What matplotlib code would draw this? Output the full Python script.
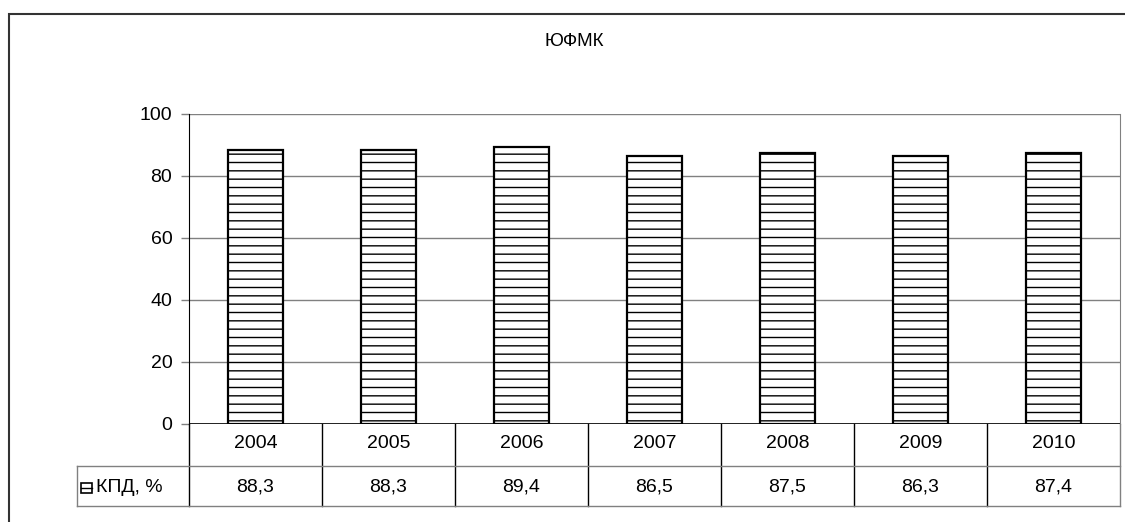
import numpy as np
import matplotlib
matplotlib.use("Agg")
import matplotlib.pyplot as plt
from matplotlib.lines import Line2D
from matplotlib.patches import Rectangle
from matplotlib.transforms import blended_transform_factory

plt.rcParams['font.family'] = ['Liberation Sans', 'DejaVu Sans']
plt.rcParams['hatch.linewidth'] = 1.0

# данные
years = ['2004', '2005', '2006', '2007', '2008', '2009', '2010']
kpd = [88.3, 88.3, 89.4, 86.5, 87.5, 86.3, 87.4]
series_name = 'КПД, %'
title = 'ЮФМК'

W, H = 1125, 522
fig = plt.figure(figsize=(W / 100, H / 100), dpi=100)


def fx(x):
    return x / W


def fy(y):
    return 1 - y / H


# область построения
left, right, top, bottom = 189, 1120, 114, 424
ax = fig.add_axes([fx(left), fy(bottom), fx(right - left), (bottom - top) / H])

x = np.arange(len(years))
ax.bar(x, kpd, width=0.41, color='white', edgecolor='black', linewidth=1.6,
       hatch='--', zorder=3)

ax.set_xlim(-0.5, len(years) - 0.5)
ax.set_ylim(0, 100)
ax.set_yticks(range(0, 101, 20))
ax.set_xticks([])
ax.grid(axis='y', color='#808080', linewidth=1.0, zorder=0)
ax.tick_params(axis='y', labelsize=14, length=6, width=1, color='#808080', pad=6)
for s in ['top', 'bottom']:
    ax.spines[s].set_visible(False)
ax.spines['left'].set_color('black')
ax.spines['right'].set_color('#808080')
ax.axhline(0, color='black', linewidth=1.2, zorder=4)

# заголовок
fig.text(fx(574), fy(42), title, ha='center', va='center', fontsize=13.5)

# таблица данных
tr = blended_transform_factory(ax.transData, fig.transFigure)
row1, row2, row3 = 424, 466, 506
for i in range(len(years) + 1):
    xi = i - 0.5
    col = '#808080' if i == len(years) else 'black'
    fig.add_artist(Line2D([xi, xi], [fy(row1), fy(row3)], transform=tr,
                          color=col, linewidth=1.0))
fig.add_artist(Line2D([fx(77), fx(right)], [fy(row2), fy(row2)],
                      transform=fig.transFigure, color='#808080', linewidth=1.0))
fig.add_artist(Line2D([fx(77), fx(right)], [fy(row3), fy(row3)],
                      transform=fig.transFigure, color='#808080', linewidth=1.0))
fig.add_artist(Line2D([fx(77), fx(77)], [fy(row2), fy(row3)],
                      transform=fig.transFigure, color='#808080', linewidth=1.0))

for i, (yr, v) in enumerate(zip(years, kpd)):
    fig.text(i, fy(444), yr, transform=tr, ha='center', va='center', fontsize=14)
    fig.text(i, fy(487), f'{v:.1f}'.replace('.', ','), transform=tr,
             ha='center', va='center', fontsize=14)

# ключ легенды
fig.add_artist(Rectangle((fx(81), fy(493)), fx(11), 10 / H, transform=fig.transFigure,
                         facecolor='white', edgecolor='black', linewidth=1.2))
fig.add_artist(Line2D([fx(81), fx(92)], [fy(488), fy(488)],
                      transform=fig.transFigure, color='black', linewidth=1.0))
fig.text(fx(96), fy(487), series_name, ha='left', va='center', fontsize=14)

# рамка диаграммы
fig.add_artist(Line2D([fx(9), fx(9), fx(W + 20)], [0, fy(14), fy(14)],
                      transform=fig.transFigure, color='#333333', linewidth=1.5,
                      solid_capstyle='butt', solid_joinstyle='miter'))

fig.savefig('out.png', dpi=100, facecolor='white')
